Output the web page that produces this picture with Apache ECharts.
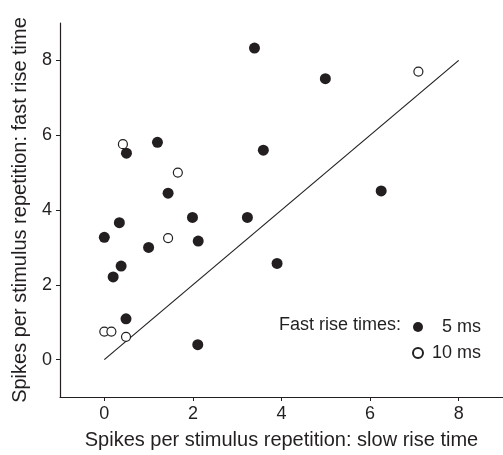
<!DOCTYPE html>
<html lang="en">
<head>
    <meta charset="UTF-8">
    <title>Spikes per stimulus repetition</title>
    <script src="https://cdn.jsdelivr.net/npm/echarts@6/dist/echarts.min.js"></script>
    <style>
        html, body { margin: 0; padding: 0; background: #fff; }
        #chart { width: 503px; height: 455px; }
    </style>
</head>
<body>
    <div id="chart"></div>
    <script>
        // slow rise time (x), fast rise time (y)
        var fast5ms = [
            [3.39, 8.33], [4.99, 7.51], [1.20, 5.81], [0.50, 5.52], [3.59, 5.60],
            [1.44, 4.45], [6.25, 4.51], [1.99, 3.80], [3.23, 3.80], [0.34, 3.66],
            [0.00, 3.27], [2.12, 3.17], [1.00, 3.00], [0.38, 2.50], [0.20, 2.21],
            [3.90, 2.57], [0.49, 1.09], [2.11, 0.40]
        ];
        var fast10ms = [
            [7.09, 7.70], [0.42, 5.76], [1.66, 5.00], [1.44, 3.25],
            [0.00, 0.75], [0.16, 0.75], [0.49, 0.61]
        ];
        var unityLine = [[0, 0], [8, 8]];
        var xTicks = [0, 2, 4, 6, 8];
        var yTicks = [0, 2, 4, 6, 8];
        var seriesNames = ['5 ms', '10 ms'];

        var ink = '#231f20';
        var font = 'Liberation Sans, Arial, sans-serif';
        var chart = echarts.init(document.getElementById('chart'));
        var option = {
            animation: false,
            textStyle: { fontFamily: font, color: ink },
            grid: { left: 60, right: 0, top: 23, bottom: 55 },
            xAxis: {
                type: 'value',
                min: -1,
                max: 9,
                name: 'Spikes per stimulus repetition: slow rise time',
                nameLocation: 'middle',
                nameGap: 33,
                nameTextStyle: { fontSize: 20, color: ink },
                axisLine: { onZero: false, lineStyle: { color: ink, width: 1.2 } },
                axisTick: { customValues: xTicks, length: 4, lineStyle: { color: ink } },
                axisLabel: { customValues: xTicks, fontSize: 18, color: ink, margin: 8 },
                splitLine: { show: false }
            },
            yAxis: {
                type: 'value',
                min: -1,
                max: 9,
                name: 'Spikes per stimulus repetition: fast rise time',
                nameLocation: 'middle',
                nameGap: 30,
                nameTextStyle: { fontSize: 20, color: ink },
                axisLine: { show: true, onZero: false, lineStyle: { color: ink, width: 1.2 } },
                axisTick: { show: true, customValues: yTicks, length: 4, lineStyle: { color: ink } },
                axisLabel: { customValues: yTicks, fontSize: 18, color: ink, margin: 8 },
                splitLine: { show: false }
            },
            legend: {
                data: seriesNames,
                orient: 'vertical',
                left: 412,
                top: 318,
                padding: 0,
                itemWidth: 10,
                itemHeight: 10,
                itemGap: 8,
                formatter: function (name) { return '{r|' + name + '}'; },
                textStyle: {
                    color: ink,
                    rich: { r: { width: 53, align: 'right', fontSize: 18, color: ink, fontFamily: font } }
                }
            },
            graphic: [{
                type: 'text',
                left: 279,
                top: 316,
                style: { text: 'Fast rise times:', fontSize: 18, fill: ink, fontFamily: font }
            }],
            series: [
                {
                    name: '5 ms',
                    type: 'scatter',
                    data: fast5ms,
                    symbol: 'circle',
                    symbolSize: 11,
                    itemStyle: { color: ink, opacity: 1 },
                    z: 3
                },
                {
                    name: '10 ms',
                    type: 'scatter',
                    data: fast10ms,
                    symbol: 'circle',
                    symbolSize: 9,
                    itemStyle: { color: '#fff', borderColor: ink, borderWidth: 1.2, opacity: 1 },
                    z: 3
                },
                {
                    name: 'unity',
                    type: 'line',
                    data: unityLine,
                    symbol: 'none',
                    lineStyle: { color: ink, width: 1.2 },
                    z: 2
                }
            ]
        };
        chart.setOption(option);
    </script>
</body>
</html>
